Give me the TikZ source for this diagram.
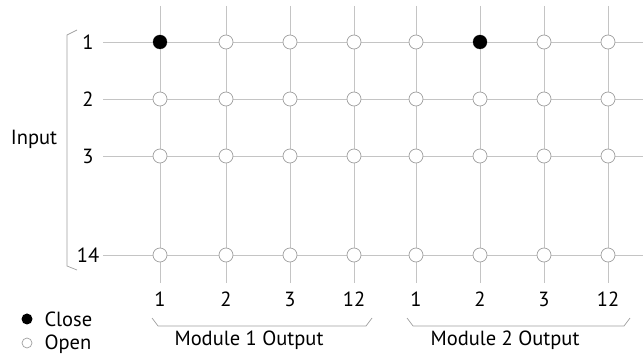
\documentclass[tikz,border=0pt]{standalone}
\usepackage{fontspec}
\setmainfont{PT Sans}
\usetikzlibrary{positioning}

\definecolor{wiregray}{HTML}{C4C4C4}
\definecolor{ringgray}{HTML}{A0A0A0}

\tikzset{
  wire/.style={draw=wiregray, line width=0.9pt},
  openpt/.style={circle, draw=ringgray, fill=white, line width=0.7pt, minimum size=14pt, inner sep=0pt},
  closedpt/.style={circle, fill=black, minimum size=14pt, inner sep=0pt},
  bracketline/.style={draw=ringgray, line width=0.7pt}
}

\begin{document}
\begin{tikzpicture}[x=1pt, y=-1pt, font=\fontsize{20.5}{24}\selectfont]
    \useasboundingbox (0,0) rectangle (643,355);

    % Output columns: labels at the bottom, wires going up
    \foreach \x/\c [count=\i] in {160/1,226/2,290/3,354/12,416/1,480/2,544/3,608/12} {
        \node (col\i) at (\x,299) {\c};
        \coordinate (top\i) at (\x,6);
        \coordinate (bot\i) at (\x,283);
        \draw[wire] (top\i) -- (bot\i);
    }

    % Input rows: labels on the left, wires going right
    \foreach \y/\r [count=\j] in {42/1,99/2,156/3,255/14} {
        \node (row\j) at (88,\y) {\r};
        \coordinate (start\j) at (103,\y);
        \coordinate (end\j) at (643,\y);
        \draw[wire] (start\j) -- (end\j);
    }

    % Crosspoints, all open first
    \foreach \i in {1,...,8} {
        \foreach \j in {1,...,4} {
            \node[openpt] (pt\i-\j) at (top\i |- start\j) {};
        }
    }
    % Closed crosspoints
    \node[closedpt] (close1) at (top1 |- start1) {};
    \node[closedpt] (close2) at (top6 |- start1) {};

    % Input bracket
    \draw[bracketline] (77,30) -- (67,35) -- (67,266) -- (77,270);
    \node (input) at (34,139) {Input};

    % Module brackets
    \draw[bracketline] (152,318) -- (158,326) -- (366,326) -- (372,318);
    \node (mod1) at (249,340) {Module 1 Output};
    \draw[bracketline] (407,318) -- (413,326) -- (624,326) -- (630,318);
    \node (mod2) at (505,340) {Module 2 Output};

    % Legend
    \node[closedpt, minimum size=11pt] (legclose) at (27,319) {};
    \node[right=14pt of legclose.center, anchor=west] (closetxt) {Close};
    \node[openpt, minimum size=10pt] (legopen) at (27,343) {};
    \node[right=14pt of legopen.center, anchor=west, yshift=-1pt] (opentxt) {Open};
\end{tikzpicture}
\end{document}
